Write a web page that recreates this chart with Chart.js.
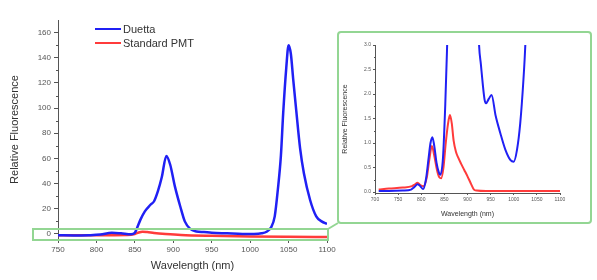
<!DOCTYPE html>
<html>
<head>
<meta charset="utf-8">
<script src="https://cdn.jsdelivr.net/npm/chart.js@4.4.0/dist/chart.umd.min.js"></script>
<style>
  html, body { margin: 0; padding: 0; background: #fff; }
  #wrap { position: relative; width: 597px; height: 280px; overflow: hidden; }
  #main { position: absolute; left: 0; top: 0; }
  #inset { position: absolute; left: 339px; top: 34px; }
</style>
</head>
<body>
<div id="wrap">
  <canvas id="main" width="597" height="280"></canvas>
  <canvas id="inset" width="250" height="187"></canvas>
</div>
<script>
// ===== data =====
const SERIES = ['Duetta', 'Standard PMT'];
const COLORS = ['#2020f4', '#ff3b3b'];

// main panel
const duettaWl = [750, 770, 790, 805, 820, 832, 845, 850, 853, 857, 863, 870, 875, 880, 885, 891, 896, 902, 909, 915, 922, 930, 940, 950, 970, 990, 1005, 1015, 1022, 1027, 1032, 1036, 1040, 1043, 1047, 1050, 1053, 1056, 1060, 1065, 1070, 1078, 1086, 1093, 1100];
const duettaVal = [-1, -1.2, -1, -0.5, 1, 0.5, -0.3, 1, 5, 11, 18, 23, 26, 34, 45, 62, 55, 38, 22, 10, 4, 2, 1.5, 1, 0.5, 0, 0, 0.5, 2, 5, 14, 35, 62, 96, 132, 150, 143, 123, 98, 68, 48, 27, 14, 10, 8];
const pmtWl = [750, 800, 840, 850, 855, 860, 866, 875, 890, 910, 950, 1000, 1050, 1100];
const pmtVal = [-1, -1, -0.8, 0, 1.2, 1.8, 1.5, 0.8, 0, -0.8, -1.5, -2, -2.3, -2.5];

const mainXTicks = [750, 800, 850, 900, 950, 1000, 1050, 1100];
const mainXMinor = [775, 825, 875, 925, 975, 1025, 1075];
const mainYTicks = [0, 20, 40, 60, 80, 100, 120, 140, 160];
const mainYMinor = [10, 30, 50, 70, 90, 110, 130, 150];

// inset (zoom on the baseline)
const insetDuettaWl = [708, 730, 760, 778, 785, 792, 798, 804, 810, 816, 820, 824, 828, 833, 838, 841, 847, 852, 856, 862, 880, 900, 918, 925, 929, 933, 937, 940, 946, 952, 961, 971, 982, 993, 1000, 1007, 1014, 1021, 1025, 1032];
const insetDuettaVal = [0.02, 0.02, 0.03, 0.05, 0.1, 0.16, 0.12, 0.06, 0.25, 0.7, 1.0, 1.12, 0.95, 0.6, 0.4, 0.35, 0.7, 1.8, 3.0, 5, 12, 12, 5, 3.0, 2.6, 2.2, 1.88, 1.81, 1.9, 1.98, 1.55, 1.2, 0.86, 0.65, 0.62, 0.86, 1.4, 2.3, 3.0, 5];
const insetPmtWl = [708, 730, 760, 780, 786, 792, 798, 805, 812, 818, 823, 828, 834, 839, 843, 848, 853, 858, 862, 866, 870, 875, 880, 886, 893, 900, 907, 914, 920, 940, 1000, 1050, 1100];
const insetPmtVal = [0.05, 0.07, 0.09, 0.12, 0.15, 0.19, 0.14, 0.12, 0.3, 0.7, 0.94, 0.75, 0.45, 0.3, 0.28, 0.5, 1.0, 1.4, 1.57, 1.4, 1.05, 0.82, 0.7, 0.58, 0.45, 0.32, 0.18, 0.05, 0.03, 0.02, 0.02, 0.02, 0.02];

const insetXTicks = [700, 750, 800, 850, 900, 950, 1000, 1050, 1100];
const insetXMinor = [725, 775, 825, 875, 925, 975, 1025, 1075];
const insetYTicks = [0, 0.5, 1, 1.5, 2, 2.5, 3];
const insetYMinor = [0.25, 0.75, 1.25, 1.75, 2.25, 2.75];

const FONT = 'Liberation Sans, Arial, sans-serif';
const AXIS = '#555';
const GREEN = '#93d693';

Chart.defaults.font.family = FONT;
Chart.defaults.color = '#444';

const pts = (xs, ys) => xs.map((x, i) => ({ x, y: ys[i] }));

function lineSet(label, color, data, width) {
  return {
    label, data,
    borderColor: color,
    backgroundColor: color,
    borderWidth: width,
    pointRadius: 0,
    tension: 0.4,
    cubicInterpolationMode: 'monotone',
    fill: false
  };
}

// axis helper: fixed ticks, outward tick marks, no grid
function axis(cfg) {
  return {
    type: 'linear',
    min: cfg.min, max: cfg.max,
    afterBuildTicks: s => { s.ticks = cfg.ticks.map(v => ({ value: v })); },
    afterFit: s => { if (cfg.w) s.width = cfg.w; if (cfg.h) s.height = cfg.h; },
    border: { display: true, color: AXIS, width: 1 },
    grid: { drawOnChartArea: false, drawTicks: true, tickLength: cfg.tick, color: AXIS },
    ticks: {
      font: { size: cfg.fs }, color: '#555', padding: cfg.pad,
      maxRotation: 0, autoSkip: false,
      callback: cfg.fmt || (v => v)
    },
    title: {
      display: true, text: cfg.title, color: '#333',
      font: { size: cfg.tfs }, padding: cfg.tpad
    }
  };
}

// minor ticks drawn on the outer side of each axis
function minorTicks(xMinor, yMinor, len) {
  return {
    id: 'minorTicks',
    afterDraw(chart) {
      const { ctx, chartArea: a, scales: { x, y } } = chart;
      ctx.save();
      ctx.strokeStyle = AXIS;
      ctx.lineWidth = 1;
      ctx.beginPath();
      xMinor.forEach(v => {
        const px = Math.round(x.getPixelForValue(v)) + 0.5;
        ctx.moveTo(px, a.bottom); ctx.lineTo(px, a.bottom + len);
      });
      yMinor.forEach(v => {
        const py = Math.round(y.getPixelForValue(v)) + 0.5;
        ctx.moveTo(a.left, py); ctx.lineTo(a.left - len, py);
      });
      ctx.stroke();
      ctx.restore();
    }
  };
}

// legend, zoom rectangle, connector and inset frame on the main canvas
const decorations = {
  id: 'decorations',
  afterDraw(chart) {
    const { ctx, chartArea: a, scales: { y } } = chart;
    ctx.save();
    // legend
    ctx.font = '11px ' + FONT;
    ctx.textBaseline = 'middle';
    chart.data.datasets.forEach((ds, i) => {
      const ly = 29 + i * 14;
      ctx.strokeStyle = ds.borderColor;
      ctx.lineWidth = 2;
      ctx.beginPath(); ctx.moveTo(95, ly); ctx.lineTo(121, ly); ctx.stroke();
      ctx.fillStyle = '#333';
      ctx.fillText(ds.label, 123, ly + 0.5);
    });
    // highlight rectangle around the baseline
    ctx.strokeStyle = GREEN;
    ctx.lineWidth = 2;
    const top = Math.round(y.getPixelForValue(4));
    const right = Math.round(a.right) + 1;
    ctx.strokeRect(33, top, right - 33, Math.round(a.bottom) + 1 - top);
    // connector to inset
    ctx.beginPath(); ctx.moveTo(right, top); ctx.lineTo(338, 223); ctx.stroke();
    // inset frame
    ctx.beginPath();
    ctx.roundRect(338, 32, 253, 191, 3);
    ctx.stroke();
    ctx.restore();
  }
};

new Chart(document.getElementById('main'), {
  type: 'line',
  data: {
    datasets: [
      lineSet(SERIES[0], COLORS[0], pts(duettaWl, duettaVal), 2.5),
      lineSet(SERIES[1], COLORS[1], pts(pmtWl, pmtVal), 2.5)
    ]
  },
  options: {
    responsive: false,
    devicePixelRatio: 1,
    animation: false,
    layout: { padding: { left: 0, right: 270, top: 20, bottom: 0 } },
    plugins: { legend: { display: false }, tooltip: { enabled: false } },
    scales: {
      x: axis({ min: 750, max: 1100, ticks: mainXTicks, h: 41, tick: 4, pad: 2, fs: 8,
        title: 'Wavelength (nm)', tfs: 11, tpad: { top: 0, bottom: 7 } }),
      y: axis({ min: -4, max: 170, ticks: mainYTicks, w: 58, tick: 4, pad: 3, fs: 8,
        title: 'Relative Fluorescence', tfs: 11, tpad: { top: 8, bottom: 0 } })
    }
  },
  plugins: [minorTicks(mainXMinor, mainYMinor, 2), decorations]
});

new Chart(document.getElementById('inset'), {
  type: 'line',
  data: {
    datasets: [
      lineSet(SERIES[0], COLORS[0], pts(insetDuettaWl, insetDuettaVal), 2),
      lineSet(SERIES[1], COLORS[1], pts(insetPmtWl, insetPmtVal), 2)
    ]
  },
  options: {
    responsive: false,
    devicePixelRatio: 1,
    animation: false,
    layout: { padding: { left: 0, right: 29, top: 11, bottom: 0 } },
    plugins: { legend: { display: false }, tooltip: { enabled: false } },
    scales: {
      x: axis({ min: 700, max: 1100, ticks: insetXTicks, h: 28, tick: 2, pad: 2, fs: 5,
        title: 'Wavelength (nm)', tfs: 7, tpad: { top: 0, bottom: 3 } }),
      y: axis({ min: -0.02, max: 3, ticks: insetYTicks, w: 36, tick: 2, pad: 2, fs: 5,
        fmt: v => v.toFixed(1),
        title: 'Relative Fluorescence', tfs: 7, tpad: { top: 2, bottom: 0 } })
    }
  },
  plugins: [minorTicks(insetXMinor, insetYMinor, 1)]
});
</script>
</body>
</html>
